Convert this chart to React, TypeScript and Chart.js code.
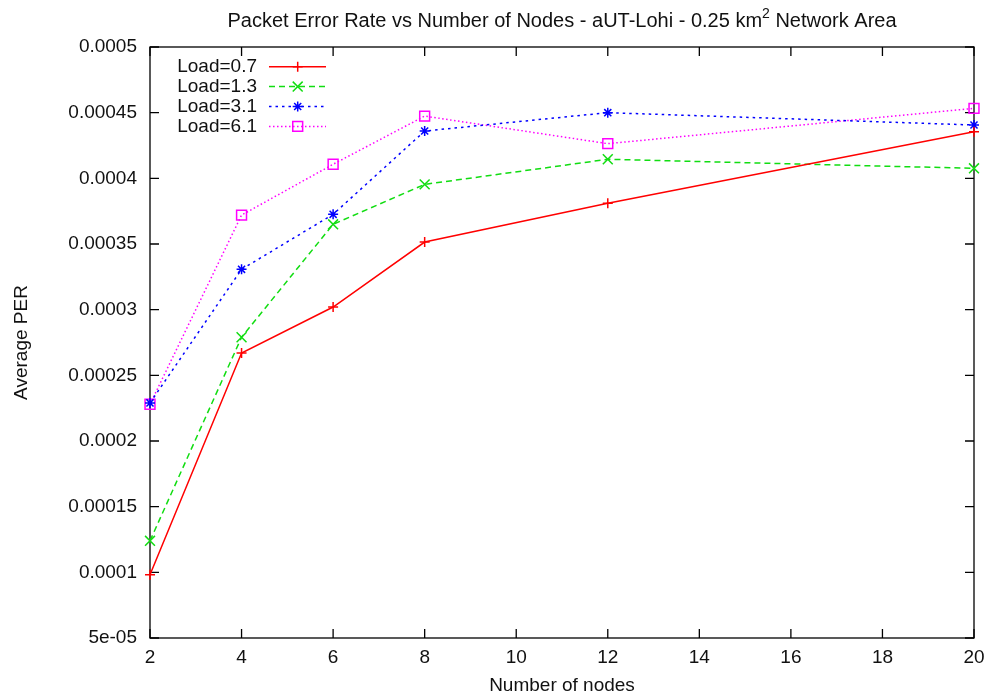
import React, { useEffect, useRef } from 'react';
import { Chart, registerables } from 'chart.js';

Chart.register(...registerables);

// ---- data ----
const nodes = [2, 4, 6, 8, 12, 20];
const load07 = [0.0000982, 0.000267, 0.000302, 0.0003515, 0.000381, 0.0004355];
const load13 = [0.000124, 0.000279, 0.000365, 0.0003954, 0.0004145, 0.0004076];
const load31 = [0.000229, 0.0003307, 0.0003726, 0.000436, 0.00045, 0.0004406];
const load61 = [0.000228, 0.000372, 0.0004107, 0.0004474, 0.0004264, 0.0004533];
const seriesLabels = ['Load=0.7', 'Load=1.3', 'Load=3.1', 'Load=6.1'];

const xTickValues = [2, 4, 6, 8, 10, 12, 14, 16, 18, 20];
const yTickValues = [0.00005, 0.0001, 0.00015, 0.0002, 0.00025, 0.0003, 0.00035, 0.0004, 0.00045, 0.0005];
const yTickLabels = ['5e-05', '0.0001', '0.00015', '0.0002', '0.00025', '0.0003', '0.00035', '0.0004', '0.00045', '0.0005'];

const titleMain = 'Packet Error Rate vs Number of Nodes - aUT-Lohi - 0.25 km';
const titleSup = '2';
const titleTail = ' Network Area';
const xTitle = 'Number of nodes';
const yTitle = 'Average PER';

const FONT = '"Liberation Sans", Arial, sans-serif';
const TEXT = '#111';

const styles = [
  { color: '#ff0000', dash: [] as number[], point: 'cross', radius: 5 },
  { color: '#11dd11', dash: [6, 4], point: 'crossRot', radius: 7 },
  { color: '#0000ff', dash: [2.5, 4], point: 'star', radius: 5 },
  { color: '#ff00ff', dash: [1.5, 2.5], point: 'rect', radius: 7 },
];

function drawMarker(ctx: CanvasRenderingContext2D, style: string, x: number, y: number, r: number) {
  ctx.beginPath();
  const d = r * Math.SQRT1_2;
  if (style === 'cross' || style === 'star') {
    ctx.moveTo(x, y - r); ctx.lineTo(x, y + r);
    ctx.moveTo(x - r, y); ctx.lineTo(x + r, y);
  }
  if (style === 'crossRot' || style === 'star') {
    ctx.moveTo(x - d, y - d); ctx.lineTo(x + d, y + d);
    ctx.moveTo(x - d, y + d); ctx.lineTo(x + d, y - d);
  }
  if (style === 'rect') {
    ctx.rect(x - d, y - d, 2 * d, 2 * d);
  }
  ctx.stroke();
}

const framePlugin = {
  id: 'frame',
  beforeDatasetsDraw(chart: any) {
    const { ctx, chartArea: a, scales } = chart;
    ctx.save();
    ctx.strokeStyle = '#000';
    ctx.lineWidth = 1.3;
    ctx.setLineDash([]);
    ctx.strokeRect(a.left, a.top, a.right - a.left, a.bottom - a.top);
    ctx.beginPath();
    const tl = 9;
    for (const v of xTickValues) {
      const px = scales.x.getPixelForValue(v);
      ctx.moveTo(px, a.bottom); ctx.lineTo(px, a.bottom - tl);
      ctx.moveTo(px, a.top); ctx.lineTo(px, a.top + tl);
    }
    for (const v of yTickValues) {
      const py = scales.y.getPixelForValue(v);
      ctx.moveTo(a.left, py); ctx.lineTo(a.left + tl, py);
      ctx.moveTo(a.right, py); ctx.lineTo(a.right - tl, py);
    }
    ctx.stroke();
    ctx.restore();
  },
  afterDraw(chart: any) {
    const { ctx, chartArea: a } = chart;
    ctx.save();
    // title with superscript
    const titleFont = `20px ${FONT}`;
    const supFont = `14px ${FONT}`;
    const legendFont = `19px ${FONT}`;
    ctx.font = titleFont;
    const w1 = ctx.measureText(titleMain).width;
    const w3 = ctx.measureText(titleTail).width;
    ctx.font = supFont;
    const w2 = ctx.measureText(titleSup).width;
    const total = w1 + w2 + w3;
    let x = (a.left + a.right) / 2 - total / 2;
    const base = 26.7;
    ctx.fillStyle = TEXT;
    ctx.textAlign = 'left';
    ctx.textBaseline = 'alphabetic';
    ctx.font = titleFont;
    ctx.fillText(titleMain, x, base);
    x += w1;
    ctx.font = supFont;
    ctx.fillText(titleSup, x, base - 9);
    x += w2;
    ctx.font = titleFont;
    ctx.fillText(titleTail, x, base);

    // legend
    const textRight = 257;
    const lineL = 269;
    const lineR = 326;
    const markX = 297.7;
    chart.data.datasets.forEach((ds: any, i: number) => {
      const y = 66.7 + i * 19.9;
      const st = styles[i];
      ctx.font = legendFont;
      ctx.fillStyle = TEXT;
      ctx.textAlign = 'right';
      ctx.textBaseline = 'middle';
      ctx.fillText(ds.label, textRight, y);
      ctx.strokeStyle = st.color;
      ctx.lineWidth = ds.borderWidth;
      ctx.setLineDash(st.dash);
      ctx.beginPath();
      ctx.moveTo(lineL, y);
      ctx.lineTo(lineR, y);
      ctx.stroke();
      ctx.setLineDash([]);
      ctx.lineWidth = ds.pointBorderWidth;
      drawMarker(ctx, st.point, markX, y, st.radius);
    });
    ctx.restore();
  },
};

export default function App() {
  const ref = useRef<HTMLCanvasElement | null>(null);

  useEffect(() => {
    document.body.style.margin = '0';
    const canvas = ref.current;
    if (!canvas) return;
    const series = [load07, load13, load31, load61];
    const chart = new Chart(canvas, {
      type: 'line',
      data: {
        datasets: series.map((vals, i) => ({
          label: seriesLabels[i],
          data: nodes.map((n, j) => ({ x: n, y: vals[j] })),
          borderColor: styles[i].color,
          borderWidth: 1.5,
          borderDash: styles[i].dash,
          pointStyle: styles[i].point as any,
          pointRadius: styles[i].radius,
          pointHoverRadius: styles[i].radius,
          pointBorderColor: styles[i].color,
          pointBackgroundColor: 'rgba(0,0,0,0)',
          pointBorderWidth: 1.5,
          tension: 0,
          fill: false,
          clip: false as any,
        })),
      },
      options: {
        animation: false,
        responsive: false,
        devicePixelRatio: 1,
        events: [],
        layout: { padding: { left: 0, right: 15, top: 47, bottom: 0 } },
        plugins: {
          legend: { display: false },
          title: { display: false },
          tooltip: { enabled: false },
        },
        font: { family: FONT, size: 19 } as any,
        scales: {
          x: {
            type: 'linear',
            min: 2,
            max: 20,
            grid: { display: false, drawTicks: false },
            border: { display: false },
            afterBuildTicks: (s: any) => { s.ticks = xTickValues.map((v) => ({ value: v })); },
            afterFit: (s: any) => { s.height = 59; s.paddingLeft = 0; s.paddingRight = 0; },
            ticks: {
              autoSkip: false,
              maxRotation: 0,
              padding: 8,
              color: TEXT,
              font: { family: FONT, size: 19 },
              callback: (v: any) => String(v),
            },
            title: {
              display: true,
              text: xTitle,
              color: TEXT,
              font: { family: FONT, size: 19 },
              padding: { top: 0, bottom: 0 },
            },
          },
          y: {
            type: 'linear',
            min: 0.00005,
            max: 0.0005,
            grid: { display: false, drawTicks: false },
            border: { display: false },
            afterBuildTicks: (s: any) => { s.ticks = yTickValues.map((v) => ({ value: v })); },
            afterFit: (s: any) => { s.width = 150; s.paddingTop = 0; s.paddingBottom = 0; },
            ticks: {
              autoSkip: false,
              padding: 13,
              color: TEXT,
              font: { family: FONT, size: 19 },
              callback: (_v: any, i: number) => yTickLabels[i],
            },
            title: {
              display: true,
              text: yTitle,
              color: TEXT,
              font: { family: FONT, size: 19 },
              padding: { top: 10, bottom: 0 },
            },
          },
        },
      },
      plugins: [framePlugin],
    });
    return () => chart.destroy();
  }, []);

  return (
    <div style={{ width: 989, height: 697, background: '#fff' }}>
      <canvas ref={ref} width={989} height={697} style={{ width: 989, height: 697, display: 'block' }} />
    </div>
  );
}
